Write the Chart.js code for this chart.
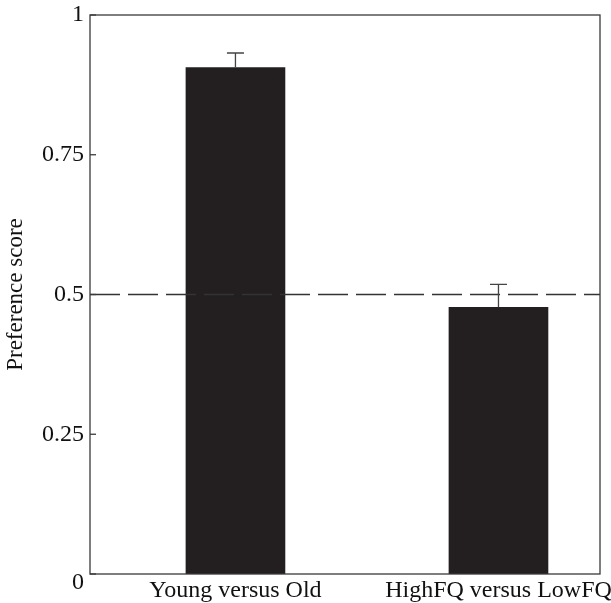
<!DOCTYPE html>
<html>

<head>
    <meta charset="utf-8">
    <title>Preference score</title>
    <style>
        html, body { margin: 0; padding: 0; background: #fff; }
        #wrap { width: 611px; height: 603px; }
    </style>
</head>

<body>
    <div id="wrap"><canvas id="myChart1"></canvas></div>
    <script src="https://cdn.jsdelivr.net/npm/chart.js@4.4.6/dist/chart.umd.min.js"></script>
    <script>
        // data
        const categories = ["Young versus Old", "HighFQ versus LowFQ"]
        const positions = [1, 2]
        const scores = [0.906, 0.477]
        const errorTops = [0.932, 0.518]
        const chanceLevel = 0.5
        const yTicks = [0, 0.25, 0.5, 0.75, 1]

        const INK = "#231f20"
        const AXIS = "#3a3a3a"
        const SERIF = "'Liberation Serif', 'DejaVu Serif', serif"
        const TICK_FONT = 24

        const boxAndMarks = {
            id: "boxAndMarks",
            afterDatasetsDraw(chart) {
                const { ctx, chartArea: a, scales: { x, y } } = chart
                ctx.save()
                // dashed chance line
                const y5 = y.getPixelForValue(chanceLevel)
                ctx.strokeStyle = "#333"
                ctx.lineWidth = 1.4
                ctx.setLineDash([30, 8])
                ctx.beginPath()
                ctx.moveTo(a.left, y5)
                ctx.lineTo(a.right, y5)
                ctx.stroke()
                ctx.setLineDash([])
                // error bars (upper only)
                ctx.strokeStyle = "#444"
                ctx.lineWidth = 1.3
                positions.forEach((p, i) => {
                    const px = x.getPixelForValue(p)
                    const top = y.getPixelForValue(errorTops[i])
                    const bot = y.getPixelForValue(scores[i])
                    ctx.beginPath()
                    ctx.moveTo(px, bot)
                    ctx.lineTo(px, top)
                    ctx.moveTo(px - 8.5, top)
                    ctx.lineTo(px + 8.5, top)
                    ctx.stroke()
                })
                // frame
                ctx.strokeStyle = AXIS
                ctx.lineWidth = 1.3
                ctx.strokeRect(a.left, a.top, a.right - a.left, a.bottom - a.top)
                // inward y ticks
                yTicks.forEach(v => {
                    const py = y.getPixelForValue(v)
                    ctx.beginPath()
                    ctx.moveTo(a.left, py)
                    ctx.lineTo(a.left + 6, py)
                    ctx.stroke()
                })
                // the zero label sits a little below its tick
                ctx.fillStyle = "#111"
                ctx.font = TICK_FONT + "px " + SERIF
                ctx.textAlign = "right"
                ctx.textBaseline = "middle"
                ctx.fillText("0", a.left - 6, y.getPixelForValue(0) + 9)
                ctx.restore()
            },
        }

        const config = {
            type: "bar",
            data: {
                datasets: [{
                    label: "Preference score",
                    data: positions.map((p, i) => ({ x: p, y: scores[i] })),
                    backgroundColor: INK,
                    borderWidth: 0,
                    barThickness: 99,
                }],
            },
            options: {
                responsive: true,
                maintainAspectRatio: false,
                animation: false,
                layout: { padding: { top: 15, right: 11, left: 0, bottom: 0 } },
                plugins: {
                    legend: { display: false },
                    tooltip: { enabled: false },
                },
                scales: {
                    x: {
                        type: "linear",
                        offset: false,
                        min: 0.447,
                        max: 2.386,
                        grid: { display: false, drawTicks: false },
                        border: { display: false },
                        afterBuildTicks: s => { s.ticks = positions.map(v => ({ value: v })) },
                        afterFit: s => {
                            s.height = 29
                            s.paddingLeft = 0
                            s.paddingRight = 0
                        },
                        ticks: {
                            padding: 2,
                            color: "#111",
                            font: { family: SERIF, size: TICK_FONT },
                            callback: v => categories[positions.indexOf(v)],
                        },
                    },
                    y: {
                        min: 0,
                        max: 1,
                        grid: { display: false, drawTicks: false },
                        border: { display: false },
                        afterBuildTicks: s => { s.ticks = yTicks.map(v => ({ value: v })) },
                        afterFit: s => {
                            s.width = 90
                            s.paddingTop = 0
                            s.paddingBottom = 0
                        },
                        title: {
                            display: true,
                            text: "Preference score",
                            color: "#111",
                            font: { family: SERIF, size: 23 },
                            padding: { top: 2, bottom: 8 },
                        },
                        ticks: {
                            padding: 6,
                            color: "#111",
                            font: { family: SERIF, size: TICK_FONT },
                            callback: v => (v === 0 ? "" : String(v)),
                        },
                    },
                },
            },
            plugins: [boxAndMarks],
        }
        new Chart(document.getElementById("myChart1"), config)
    </script>
</body>

</html>
